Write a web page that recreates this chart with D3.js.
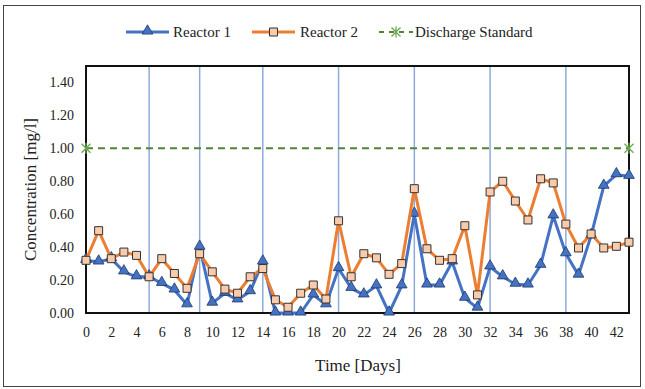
<!DOCTYPE html>
<html>
<head>
<meta charset="utf-8">
<script src="https://cdn.jsdelivr.net/npm/d3@7"></script>
<style>
  body { margin: 0; background: #fff; }
  svg text { font-family: "Liberation Serif", "DejaVu Serif", serif; fill: #222; }
</style>
</head>
<body>
<svg id="chart"></svg>
<script>
// Data
var days = d3.range(0, 44);
var reactor1 = [0.32, 0.31, 0.33, 0.25, 0.22, 0.22, 0.18, 0.14, 0.05, 0.40,
                0.06, 0.12, 0.08, 0.13, 0.31, 0.00, 0.00, 0.00, 0.11, 0.05,
                0.27, 0.15, 0.11, 0.165, 0.00, 0.165, 0.60, 0.17, 0.17, 0.31,
                0.09, 0.03, 0.28, 0.22, 0.175, 0.17, 0.29, 0.59, 0.36, 0.23,
                0.47, 0.77, 0.84, 0.83];
var reactor2 = [0.32, 0.50, 0.33, 0.37, 0.35, 0.22, 0.33, 0.24, 0.15, 0.36,
                0.25, 0.145, 0.12, 0.22, 0.27, 0.08, 0.035, 0.12, 0.17, 0.085,
                0.56, 0.22, 0.36, 0.335, 0.235, 0.30, 0.755, 0.39, 0.32, 0.33,
                0.53, 0.11, 0.735, 0.80, 0.68, 0.565, 0.815, 0.79, 0.54, 0.395,
                0.48, 0.395, 0.405, 0.43];
var standardDays = [0, 43];
var standard = [1.0, 1.0];
var markerDays = [5, 9, 14, 20, 26, 32, 38];
var yTicks = [0, 0.2, 0.4, 0.6, 0.8, 1.0, 1.2, 1.4];
var xTicks = d3.range(0, 43, 2);

var W = 645, H = 389;
var svg = d3.select("#chart").attr("width", W).attr("height", H);

// outer chart border
svg.append("rect").attr("x", 3.5).attr("y", 5.5).attr("width", 637).attr("height", 381)
  .attr("fill", "none").attr("stroke", "#444").attr("stroke-width", 1);

var pL = 86, pR = 629, pT = 66, pB = 313;
var x = d3.scaleLinear().domain([0, 43]).range([pL, pR]);
var y = d3.scaleLinear().domain([0, 1.5]).range([pB, pT]);

var blue = "#4472C4", orange = "#ED7D31", green = "#548235";

// vertical phase lines
svg.selectAll(".phase").data(markerDays).enter().append("line")
  .attr("x1", function (d) { return x(d); }).attr("x2", function (d) { return x(d); })
  .attr("y1", pT).attr("y2", pB)
  .attr("stroke", "#8EAADB").attr("stroke-width", 1.5);

// axes
var yAxis = d3.axisLeft(y).tickValues(yTicks).tickSize(0).tickPadding(12)
  .tickFormat(d3.format(".2f"));
var gy = svg.append("g").attr("transform", "translate(" + pL + ",0)").call(yAxis);
gy.select(".domain").remove();
gy.selectAll("text").style("font-size", "14px");

var xAxis = d3.axisBottom(x).tickValues(xTicks).tickSize(0).tickPadding(14)
  .tickFormat(d3.format("d"));
var gx = svg.append("g").attr("transform", "translate(0," + pB + ")").call(xAxis);
gx.select(".domain").remove();
gx.selectAll("text").style("font-size", "14px");

// plot frame
svg.append("rect").attr("x", pL).attr("y", pT).attr("width", pR - pL).attr("height", pB - pT)
  .attr("fill", "none").attr("stroke", "#111").attr("stroke-width", 2);

// axis titles
svg.append("text").attr("transform", "translate(36," + ((pT + pB) / 2) + ") rotate(-90)")
  .attr("text-anchor", "middle").style("font-size", "17px").text("Concentration [mg/l]");
svg.append("text").attr("x", 358).attr("y", 371)
  .attr("text-anchor", "middle").style("font-size", "17px").text("Time [Days]");

// series
var line = d3.line().x(function (d) { return x(d[0]); }).y(function (d) { return y(d[1]); });

var r1 = days.map(function (d, i) { return [d, reactor1[i]]; });
var r2 = days.map(function (d, i) { return [d, reactor2[i]]; });
var std = standardDays.map(function (d, i) { return [d, standard[i]]; });

svg.append("path").datum(std).attr("d", line).attr("fill", "none")
  .attr("stroke", green).attr("stroke-width", 2).attr("stroke-dasharray", "7,5");

function star(g, cx, cy) {
  var s = 4.5;
  g.append("path")
    .attr("d", "M" + (cx - s) + "," + (cy - s) + "L" + (cx + s) + "," + (cy + s) +
               "M" + (cx - s) + "," + (cy + s) + "L" + (cx + s) + "," + (cy - s) +
               "M" + cx + "," + (cy - s - 1) + "L" + cx + "," + (cy + s + 1))
    .attr("stroke", "#6AA84F").attr("stroke-width", 1.3);
}
std.forEach(function (p) { star(svg, x(p[0]), y(p[1])); });

var tri = d3.symbol().type(d3.symbolTriangle).size(50);
var sq = d3.symbol().type(d3.symbolSquare).size(64);

svg.append("path").datum(r1).attr("d", line).attr("fill", "none")
  .attr("stroke", blue).attr("stroke-width", 3).attr("stroke-linejoin", "round");
svg.selectAll(".m1").data(r1).enter().append("path")
  .attr("d", tri)
  .attr("transform", function (d) { return "translate(" + x(d[0]) + "," + (y(d[1]) - 1) + ")"; })
  .attr("fill", blue).attr("stroke", "#1F3864").attr("stroke-width", 0.8);

svg.append("path").datum(r2).attr("d", line).attr("fill", "none")
  .attr("stroke", orange).attr("stroke-width", 3).attr("stroke-linejoin", "round");
svg.selectAll(".m2").data(r2).enter().append("path")
  .attr("d", sq)
  .attr("transform", function (d) { return "translate(" + x(d[0]) + "," + y(d[1]) + ")"; })
  .attr("fill", "#F8CBAD").attr("stroke", "#333").attr("stroke-width", 1);

// legend
var ly = 32;
var lg = svg.append("g");
lg.append("line").attr("x1", 126).attr("x2", 169).attr("y1", ly).attr("y2", ly)
  .attr("stroke", blue).attr("stroke-width", 3);
lg.append("path").attr("d", tri).attr("transform", "translate(147.5," + (ly - 1) + ")")
  .attr("fill", blue).attr("stroke", "#1F3864").attr("stroke-width", 0.8);
lg.append("text").attr("x", 173).attr("y", ly + 5).style("font-size", "15px").text("Reactor 1");

lg.append("line").attr("x1", 252).attr("x2", 295).attr("y1", ly).attr("y2", ly)
  .attr("stroke", orange).attr("stroke-width", 3);
lg.append("path").attr("d", sq).attr("transform", "translate(273.5," + ly + ")")
  .attr("fill", "#F8CBAD").attr("stroke", "#333").attr("stroke-width", 1);
lg.append("text").attr("x", 300).attr("y", ly + 5).style("font-size", "15px").text("Reactor 2");

lg.append("line").attr("x1", 379).attr("x2", 413).attr("y1", ly).attr("y2", ly)
  .attr("stroke", green).attr("stroke-width", 2).attr("stroke-dasharray", "5,5");
star(lg, 396, ly);
lg.append("text").attr("x", 415).attr("y", ly + 5).style("font-size", "15px").text("Discharge Standard");
</script>
</body>
</html>
